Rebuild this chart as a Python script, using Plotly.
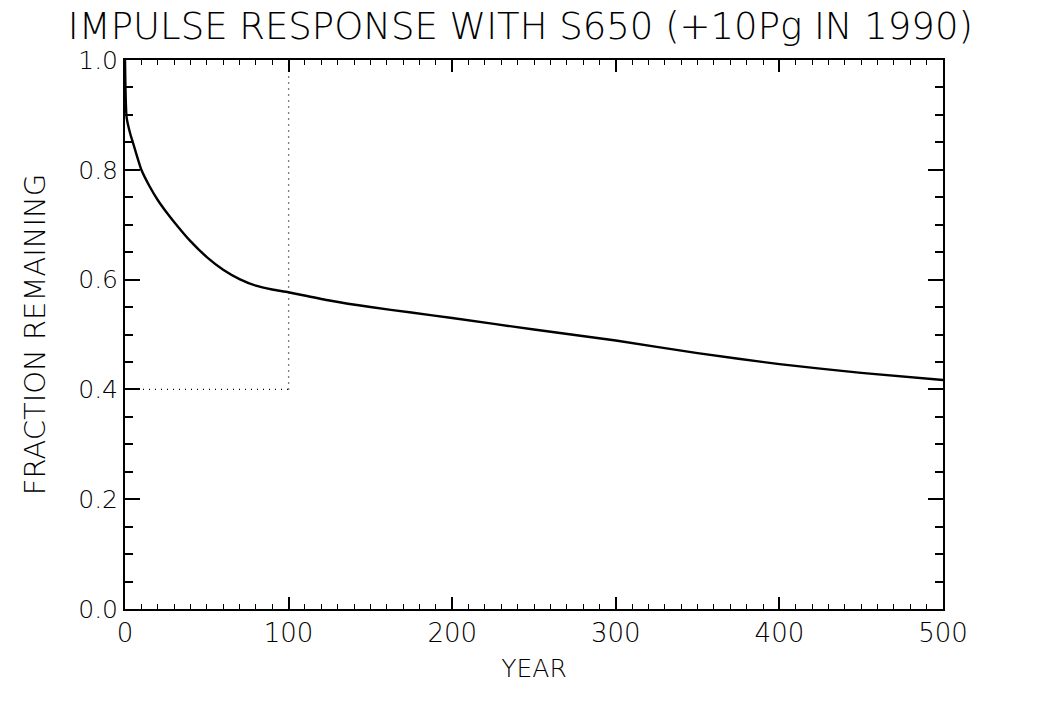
import plotly.graph_objects as go

# Impulse response: fraction of a +10 Pg pulse (1990) remaining in the atmosphere
years = [0, 1, 3, 5, 10, 15, 20, 25, 30, 40, 50, 60, 70, 80, 90, 100,
         125, 150, 175, 200, 250, 300, 350, 400, 450, 500]
fraction = [1.0, 0.895, 0.868, 0.848, 0.800, 0.770, 0.745, 0.724, 0.705, 0.670,
            0.641, 0.618, 0.601, 0.589, 0.582, 0.577,
            0.562, 0.550, 0.540, 0.530, 0.509, 0.489, 0.466, 0.446, 0.430, 0.417]

# Reference marks: 100-year horizon and the 0.4 level
ref_year = 100
ref_fraction = 0.4

x_ticks = [0, 100, 200, 300, 400, 500]
y_ticks = [0.0, 0.2, 0.4, 0.6, 0.8, 1.0]

FONT = "DejaVu Sans"

fig = go.Figure()

fig.add_trace(go.Scatter(
    x=years, y=fraction, mode="lines",
    line=dict(color="black", width=2.4, shape="spline", smoothing=0.6),
    showlegend=False, hoverinfo="x+y",
))

# dotted guides
fig.add_trace(go.Scatter(
    x=[ref_year, ref_year], y=[ref_fraction, 1.0], mode="lines",
    line=dict(color="black", width=1.3, dash="1px,5px"), showlegend=False,
))
fig.add_trace(go.Scatter(
    x=[0, ref_year], y=[ref_fraction, ref_fraction], mode="lines",
    line=dict(color="black", width=1.3, dash="1px,5px"), showlegend=False,
))

fig.update_layout(
    width=1047, height=702,
    margin=dict(l=125, r=104, t=60, b=93),
    paper_bgcolor="white", plot_bgcolor="white",
    font=dict(family=FONT, color="black", size=24, weight=300),
    title=dict(
        text="IMPULSE RESPONSE WITH S650 (+10Pg IN 1990)",
        x=0.497, xanchor="center", y=0.963, yanchor="middle",
        font=dict(family=FONT, size=37, color="black", weight=200),
    ),
)

fig.update_xaxes(
    range=[0, 500], tickvals=x_ticks, ticktext=[str(v) for v in x_ticks],
    showgrid=False, zeroline=False,
    showline=True, linecolor="black", linewidth=2, mirror="allticks",
    ticks="inside", ticklen=12, tickwidth=1.5, tickcolor="black",
    minor=dict(dtick=10, ticks="inside", ticklen=5, tickwidth=1, tickcolor="black"),
    tickfont=dict(size=26, family=FONT, weight=200),
    title=dict(text="YEAR", standoff=12, font=dict(size=25, family=FONT, weight=200)),
)

fig.update_yaxes(
    range=[0, 1.0], tickvals=y_ticks, ticktext=[f"{v:.1f}" for v in y_ticks],
    showgrid=False, zeroline=False,
    showline=True, linecolor="black", linewidth=2, mirror="allticks",
    ticks="inside", ticklen=15, tickwidth=1.5, tickcolor="black",
    minor=dict(dtick=0.05, ticks="inside", ticklen=8, tickwidth=1.5, tickcolor="black"),
    tickfont=dict(size=25, family=FONT, weight=200),
    title=dict(text="FRACTION REMAINING", standoff=24, font=dict(size=29, family=FONT, weight=200)),
)

fig.write_html("out.html")
